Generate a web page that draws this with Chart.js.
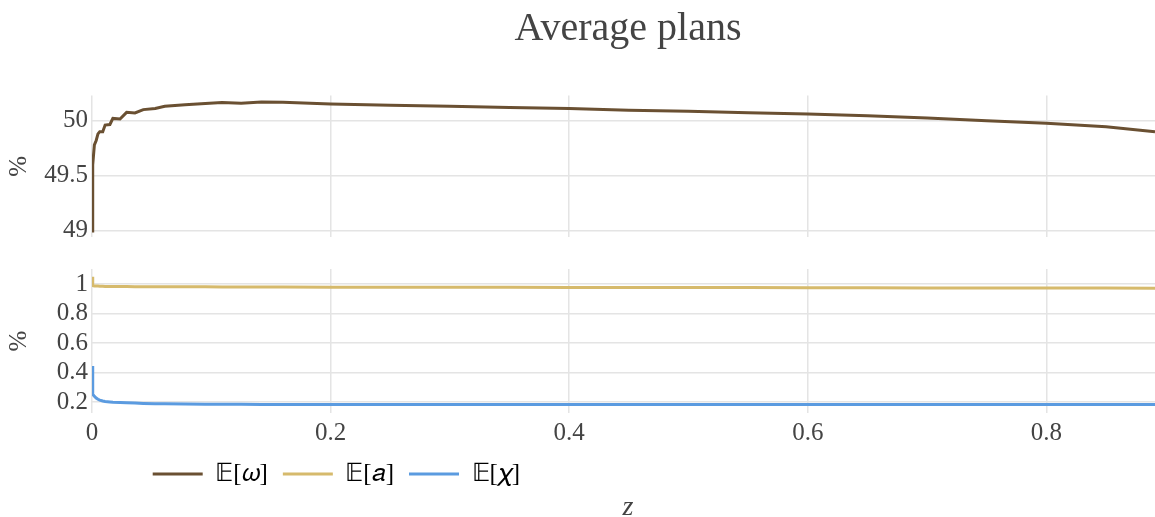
<!DOCTYPE html>
<html>
<head>
<meta charset="utf-8">
<script src="https://cdn.jsdelivr.net/npm/chart.js@4.4.1/dist/chart.umd.min.js"></script>
<style>
  html, body { margin: 0; padding: 0; background: #fff; overflow: hidden; }
  #wrap { position: relative; width: 1155px; height: 517px; overflow: hidden; }
  #topCanvas { position: absolute; left: 0; top: 0; }
  #bottomCanvas { position: absolute; left: 0; top: 240px; }
</style>
</head>
<body>
<div id="wrap">
  <canvas id="topCanvas" width="1155" height="262"></canvas>
  <canvas id="bottomCanvas" width="1155" height="300"></canvas>
</div>
<script>
// z grid shared by the three series
const z = [0, 0.0006, 0.002, 0.0035, 0.005, 0.0065, 0.009, 0.011, 0.015, 0.0175,
  0.0235, 0.029, 0.036, 0.043, 0.053, 0.061, 0.078, 0.095, 0.109, 0.125,
  0.142, 0.16, 0.2, 0.25, 0.3, 0.35, 0.4, 0.45, 0.5, 0.55,
  0.6, 0.65, 0.7, 0.75, 0.8, 0.85, 0.891];

const omega = [49.0, 49.6, 49.78, 49.82, 49.88, 49.9, 49.9, 49.96, 49.965, 50.02,
  50.015, 50.075, 50.07, 50.1, 50.11, 50.13, 50.145, 50.155, 50.165, 50.158,
  50.17, 50.167, 50.15, 50.14, 50.13, 50.12, 50.11, 50.095, 50.085, 50.072,
  50.06, 50.045, 50.025, 50.0, 49.976, 49.945, 49.9];

const a = [1.05, 0.99, 0.988, 0.987, 0.987, 0.986, 0.986, 0.985, 0.985, 0.985,
  0.984, 0.984, 0.983, 0.983, 0.983, 0.982, 0.982, 0.982, 0.981, 0.981,
  0.981, 0.981, 0.980, 0.980, 0.979, 0.979, 0.978, 0.978, 0.977, 0.977,
  0.976, 0.976, 0.975, 0.975, 0.974, 0.974, 0.973];

const chi = [0.445, 0.255, 0.24, 0.228, 0.22, 0.214, 0.208, 0.205, 0.202, 0.2,
  0.198, 0.196, 0.194, 0.192, 0.19, 0.189, 0.188, 0.187, 0.186, 0.186,
  0.185, 0.185, 0.185, 0.185, 0.185, 0.185, 0.185, 0.185, 0.185, 0.185,
  0.185, 0.185, 0.185, 0.185, 0.184, 0.184, 0.184];

const zTicks = [0, 0.2, 0.4, 0.6, 0.8];
const omegaTicks = [49, 49.5, 50];
const shareTicks = [0.2, 0.4, 0.6, 0.8, 1];

const labels = ['𝔼[𝜔]', '𝔼[𝑎]', '𝔼[𝜒]'];
const colors = ['#6a5032', '#d6ba6c', '#5b9be0'];

const FONT = 'Liberation Serif';
const TEXT = '#444';
const GRID = '#e4e4e4';

Chart.defaults.font.family = FONT;
Chart.defaults.color = TEXT;

const pts = ys => z.map((x, i) => ({ x: x, y: ys[i] }));
const fixedTicks = vals => axis => { axis.ticks = vals.map(v => ({ value: v })); };

function xScale(showTicks) {
    return {
        type: 'linear',
        min: 0,
        max: 0.891,
        afterBuildTicks: fixedTicks(zTicks),
        grid: { color: GRID, lineWidth: 1.5, drawTicks: false },
        border: { display: false },
        ticks: {
            display: showTicks,
            padding: 8,
            font: { size: 25, lineHeight: 1 },
            callback: v => String(v)
        }
    };
}

function yScale(min, max, vals) {
    return {
        min: min,
        max: max,
        afterBuildTicks: fixedTicks(vals),
        afterFit: s => { s.width = 92; },
        grid: { color: GRID, lineWidth: 1.5, drawTicks: false },
        border: { display: false },
        ticks: { padding: 4, font: { size: 25 }, callback: v => String(v) },
        title: { display: true, text: '%', font: { size: 25 }, padding: 4 }
    };
}

const lineStyle = i => ({
    borderColor: colors[i],
    backgroundColor: colors[i],
    borderWidth: 3,
    pointRadius: 0,
    tension: 0
});

// move a layout box by dx, dy after layout
function nudge(box, dx, dy) {
    if (!box) return;
    box.left += dx; box.right += dx;
    box.top += dy; box.bottom += dy;
}

const titleNudge = {
    id: 'titleNudge',
    afterLayout(chart) {
        nudge(chart.titleBlock, 4.5, 0);
    }
};

// top panel: E[omega]
new Chart(document.getElementById('topCanvas'), {
    type: 'line',
    data: {
        datasets: [Object.assign({ label: labels[0], data: pts(omega) }, lineStyle(0))]
    },
    options: {
        responsive: false,
        animation: false,
        layout: { padding: { left: 0, right: 0, top: 0, bottom: 25 } },
        scales: {
            x: xScale(false),
            y: yScale(48.945, 50.227, omegaTicks)
        },
        plugins: {
            legend: { display: false },
            tooltip: { enabled: false },
            title: {
                display: true,
                fullSize: false,
                text: 'Average plans',
                color: TEXT,
                font: { size: 40, weight: 'normal' },
                padding: { top: 5.6, bottom: 42 }
            }
        }
    },
    plugins: [titleNudge]
});

// put the legend and the z title where they sit in the reference
const bottomNudge = {
    id: 'bottomNudge',
    afterLayout(chart) {
        nudge(chart.legend, 137.7, -7.5);
        nudge(chart.boxes.find(b => b.options && b.options.text === 'z'), 4.5, -10);
    }
};

// bottom panel: E[a] and E[chi], shared legend and z title
new Chart(document.getElementById('bottomCanvas'), {
    type: 'line',
    data: {
        datasets: [
            Object.assign({ label: labels[1], data: pts(a) }, lineStyle(1)),
            Object.assign({ label: labels[2], data: pts(chi) }, lineStyle(2))
        ]
    },
    options: {
        responsive: false,
        animation: false,
        layout: { padding: { left: 0, right: 0, top: 29, bottom: 8 } },
        scales: {
            x: xScale(true),
            y: yScale(0.127, 1.103, shareTicks)
        },
        plugins: {
            tooltip: { enabled: false },
            legend: {
                position: 'bottom',
                align: 'start',
                labels: {
                    boxWidth: 50,
                    boxHeight: 3,
                    padding: 15,
                    color: TEXT,
                    font: { size: 25 },
                    generateLabels: () => labels.map((t, i) => ({
                        text: t,
                        fillStyle: colors[i],
                        strokeStyle: colors[i],
                        lineWidth: 0,
                        hidden: false,
                        datasetIndex: i
                    }))
                }
            },
            subtitle: {
                display: true,
                fullSize: false,
                position: 'bottom',
                text: 'z',
                color: TEXT,
                font: { size: 28, style: 'italic', weight: 'normal', lineHeight: 1 },
                padding: { top: 0, bottom: 0 }
            }
        }
    },
    plugins: [bottomNudge]
});
</script>
</body>
</html>
